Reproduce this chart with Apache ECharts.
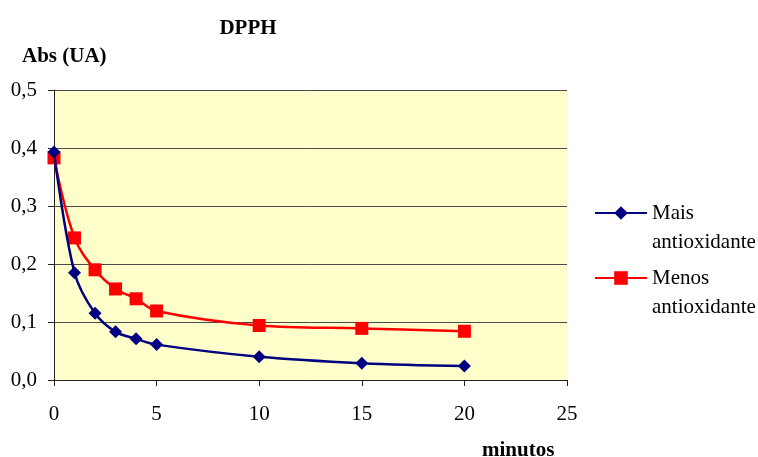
<!DOCTYPE html>
<html><head><meta charset="utf-8">
<script src="https://cdn.jsdelivr.net/npm/echarts@6/dist/echarts.min.js"></script>
<style>html,body{margin:0;padding:0;background:#fff}#c{width:758px;height:457px}</style>
</head><body><div id="c"></div>
<script>
const minutes = [0, 1, 2, 3, 4, 5, 10, 15, 20];
const maisAntioxidante = [0.393, 0.185, 0.115, 0.083, 0.071, 0.061, 0.040, 0.029, 0.024];
const menosAntioxidante = [0.383, 0.245, 0.190, 0.157, 0.140, 0.119, 0.094, 0.089, 0.084];
const seriesNames = ['Mais antioxidante', 'Menos antioxidante'];
const FONT = '"Liberation Serif","Times New Roman",serif';
const FS = 21;
const LH = 29;

const legendCommon = {
  orient: 'vertical', left: 594, itemWidth: 52, itemHeight: 17, padding: 0,
  formatter: n => ' \n' + n.replace(' ', '\n'),
  textStyle: {fontFamily: FONT, fontSize: FS, color: '#000', lineHeight: LH}
};

const chart = echarts.init(document.getElementById('c'));
chart.setOption({
  animation: false,
  backgroundColor: '#fff',
  title: [
    {text: 'DPPH', left: 243, top: 13, textAlign: 'center',
     textStyle: {fontFamily: FONT, fontSize: FS, fontWeight: 'bold', color: '#000'}},
    {text: 'Abs (UA)', left: 17, top: 41,
     textStyle: {fontFamily: FONT, fontSize: FS, fontWeight: 'bold', color: '#000'}},
    {text: 'minutos', left: 477, top: 435,
     textStyle: {fontFamily: FONT, fontSize: FS, fontWeight: 'bold', color: '#000'}}
  ],
  grid: {left: 54, top: 90, right: 191, bottom: 77, show: true, backgroundColor: '#FFFFCC', borderWidth: 0},
  legend: [
    Object.assign({}, legendCommon, {data: [seriesNames[0]], top: 213 - 1.5 * LH}),
    Object.assign({}, legendCommon, {data: [seriesNames[1]], top: 278 - 1.5 * LH})
  ],
  xAxis: {
    type: 'value', min: 0, max: 25, interval: 5,
    axisLine: {show: true, lineStyle: {color: '#222', width: 1}},
    axisTick: {show: true, inside: false, length: 6, lineStyle: {color: '#222'}},
    axisLabel: {fontFamily: FONT, fontSize: FS, color: '#000', margin: 24},
    splitLine: {show: false}
  },
  yAxis: {
    type: 'value', min: 0, max: 0.5, interval: 0.1,
    axisLine: {show: true, lineStyle: {color: '#222', width: 1}},
    axisTick: {show: true, inside: false, length: 6, lineStyle: {color: '#222'}},
    axisLabel: {fontFamily: FONT, fontSize: FS, color: '#000', margin: 17,
      formatter: v => v.toFixed(1).replace('.', ',')},
    splitLine: {show: true, lineStyle: {color: '#4a4a4a', width: 1}}
  },
  series: [
    {name: seriesNames[0], type: 'line', smooth: 0.35,
     data: minutes.map((m, i) => [m, maisAntioxidante[i]]),
     symbol: 'diamond', symbolSize: 13,
     lineStyle: {color: '#000080', width: 2.5},
     itemStyle: {color: '#000080'}, z: 3},
    {name: seriesNames[1], type: 'line', smooth: 0.35,
     data: minutes.map((m, i) => [m, menosAntioxidante[i]]),
     symbol: 'rect', symbolSize: 13,
     lineStyle: {color: '#FF0000', width: 2.5},
     itemStyle: {color: '#FF0000'}, z: 2}
  ]
});
</script></body></html>
